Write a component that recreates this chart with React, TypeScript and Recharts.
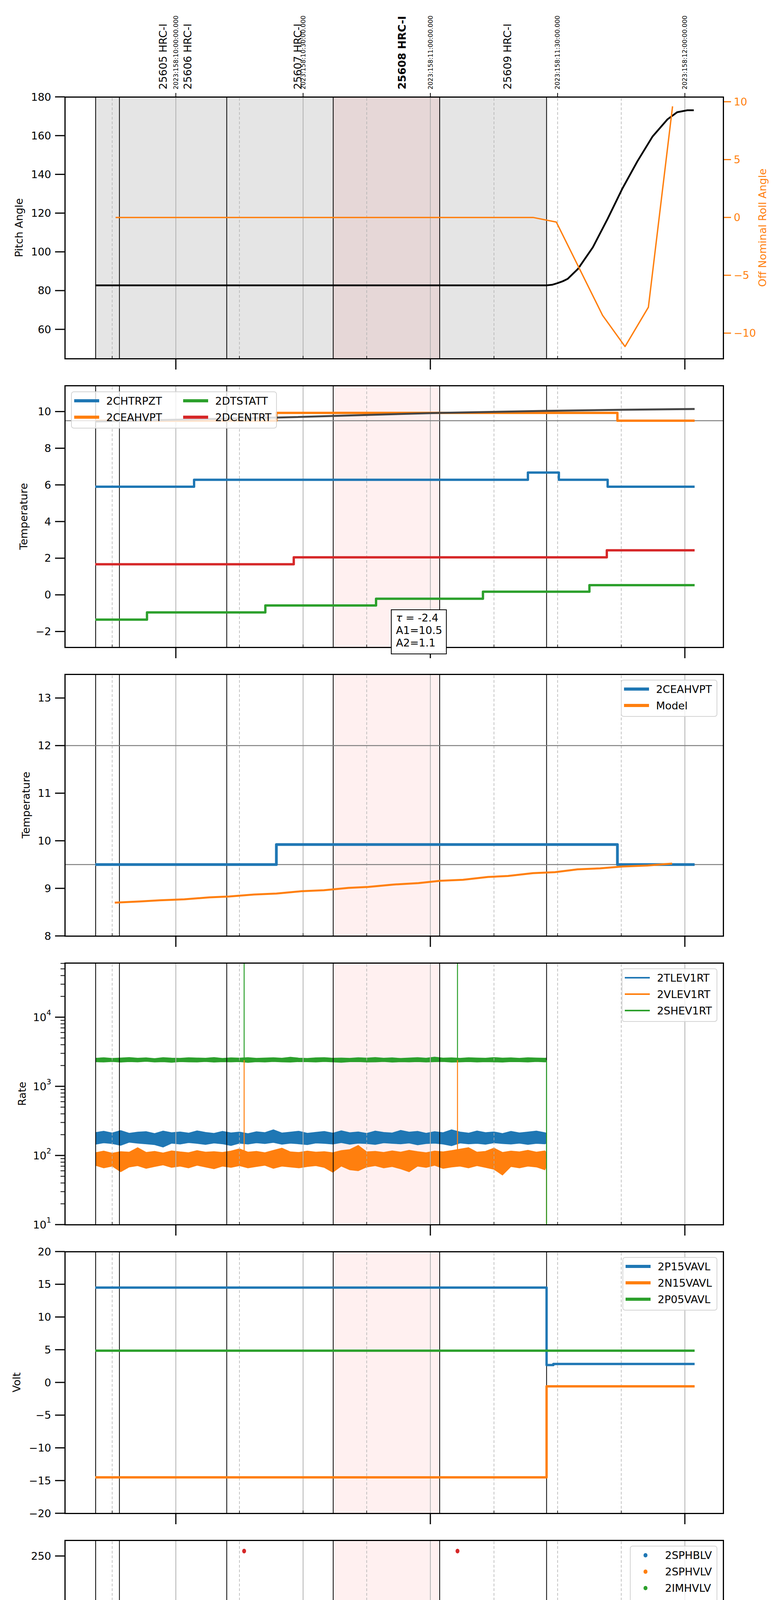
import React from "react";
import {
  ComposedChart,
  Line,
  Area,
  Scatter,
  XAxis,
  YAxis,
  ReferenceLine,
  ReferenceArea,
} from "recharts";

const FONT = "'DejaVu Sans', sans-serif";
const BLUE = "#1f77b4";
const ORANGE = "#ff7f0e";
const GREEN = "#2ca02c";
const RED = "#d62728";

// x values are minutes after 06:00 local time, 2023-06-07
const xDomain = [-26.17, 129.04];
const majorGrid = [0, 30, 60, 120];
const minorGrid = [-15, 15, 45, 75, 90, 105];
const obsidEdges = [-18.9, -13.3, 12.0, 37.1, 62.2, 87.4];
const obsidSpan = [-18.9, 87.4];
const focusSpan = [37.1, 62.2];

const bottomTicks = [-15, 0, 15, 30, 45, 60, 75, 90, 105, 120];
const bottomTickText = ["45", "06h", "15", "30", "45", "07h", "15", "30", "45", "08h"];
const topTimeTicks = [0, 30, 60, 90, 120];
const topTimeText = [
  "2023:158:10:00:00.000",
  "2023:158:10:30:00.000",
  "2023:158:11:00:00.000",
  "2023:158:11:30:00.000",
  "2023:158:12:00:00.000",
];
const obsidLabelPos = [-3.0, 2.8, 28.7, 53.3, 78.2];
const obsidLabelText = ["25605 HRC-I", "25606 HRC-I", "25607 HRC-I", "25608 HRC-I", "25609 HRC-I"];
const obsidLabelBold = [false, false, false, true, false];

// panel 1: pitch / roll
const pitchT = [-19, 87.4, 88.7, 89.9, 91.2, 92.4, 94.8, 98.3, 101.8, 105.3, 108.8, 112.4, 115.9, 118.2, 120.6, 122.1];
const pitchV = [82.7, 82.7, 83.0, 83.8, 84.8, 86.1, 91.2, 102.3, 117.1, 132.8, 146.7, 159.6, 168.4, 172.1, 173.1, 173.1];
const rollT = [-14.2, 84.2, 89.7, 100.6, 105.9, 111.4, 117.1];
const rollV = [0, 0, -0.4, -8.46, -11.16, -7.76, 9.6];

// panel 2: temperatures
const chtrT = [-19, 4.3, 83.0, 90.3, 101.8, 122.3];
const chtrV = [5.9, 6.28, 6.67, 6.28, 5.9, 5.9];
const ceahT = [-19, 23.7, 104.1, 122.3];
const ceahV = [9.5, 9.93, 9.5, 9.5];
const dtstT = [-19, -6.8, 21.1, 47.2, 72.4, 97.5, 122.3];
const dtstV = [-1.35, -0.96, -0.58, -0.21, 0.17, 0.53, 0.53];
const dcenT = [-19, 27.8, 101.6, 122.3];
const dcenV = [1.67, 2.05, 2.43, 2.43];
const trendT = [-19, 23.7, 62.2, 87.5, 105.3, 122.3];
const trendV = [9.46, 9.67, 9.93, 10.04, 10.1, 10.14];

// panel 3: 2CEAHVPT vs model
const hvptT = [-19, 23.7, 104.1, 122.3];
const hvptV = [9.5, 9.92, 9.5, 9.5];
const modelT = [-14.4, -8.5, -3.8, 2.0, 7.9, 12.6, 18.4, 23.7, 29.6, 34.9, 40.7, 45.4, 51.3, 57.2, 62.4, 67.7, 73.6, 78.3, 84.2, 89.4, 94.7, 100.0, 105.3, 111.2, 117.0];
const modelV = [8.7, 8.725, 8.75, 8.77, 8.81, 8.83, 8.87, 8.89, 8.94, 8.96, 9.01, 9.03, 9.08, 9.11, 9.16, 9.18, 9.24, 9.26, 9.32, 9.34, 9.4, 9.42, 9.46, 9.48, 9.52];

// panel 4: rates (noise envelope)
const rateT = [-19, -17, -15, -13, -11, -9, -7, -5, -3, -1, 1, 3, 5, 7, 9, 11, 13, 15, 17, 19, 21, 23, 25, 27, 29, 31, 33, 35, 37, 39, 41, 43, 45, 47, 49, 51, 53, 55, 57, 59, 61, 63, 65, 67, 69, 71, 73, 75, 77, 79, 81, 83, 85, 87, 87.4];
const tlevHi = [215, 225, 212, 230, 210, 218, 222, 208, 226, 214, 220, 211, 228, 216, 209, 224, 213, 219, 207, 221, 215, 236, 212, 218, 225, 210, 217, 223, 211, 228, 214, 220, 209, 226, 216, 212, 231, 218, 224, 210, 222, 214, 236, 219, 211, 227, 215, 220, 208, 224, 213, 219, 226, 214, 210];
const tlevLo = [145, 152, 148, 140, 155, 150, 147, 143, 132, 150, 146, 153, 149, 144, 151, 147, 139, 150, 146, 152, 148, 154, 145, 150, 147, 143, 151, 149, 146, 153, 145, 150, 148, 144, 152, 149, 147, 151, 142, 148, 150, 146, 138, 151, 147, 149, 145, 152, 148, 146, 150, 144, 149, 147, 150];
const vlevHi = [110, 116, 108, 114, 112, 130, 111, 115, 109, 117, 113, 110, 118, 112, 114, 111, 116, 125, 112, 115, 110, 119, 128, 113, 111, 116, 112, 114, 110, 118, 122, 140, 113, 115, 111, 117, 112, 119, 114, 110, 116, 113, 118, 124, 130, 112, 115, 128, 111, 116, 113, 119, 112, 117, 110];
const vlevLo = [72, 66, 70, 58, 68, 71, 65, 69, 73, 67, 70, 66, 72, 68, 64, 70, 67, 71, 66, 69, 72, 65, 70, 68, 66, 69, 71, 67, 57, 70, 62, 60, 68, 71, 66, 69, 64, 58, 70, 67, 72, 65, 68, 70, 66, 71, 67, 63, 52, 69, 66, 70, 68, 62, 70];
const shevHi = [2550, 2600, 2540, 2580, 2620, 2560, 2590, 2530, 2610, 2570, 2550, 2600, 2580, 2560, 2620, 2540, 2590, 2570, 2610, 2550, 2580, 2600, 2560, 2640, 2570, 2540, 2590, 2610, 2560, 2580, 2550, 2600, 2570, 2620, 2560, 2590, 2540, 2580, 2610, 2560, 2650, 2570, 2590, 2550, 2600, 2580, 2560, 2620, 2570, 2590, 2550, 2600, 2580, 2560, 2570];
const shevLo = [2260, 2240, 2280, 2230, 2270, 2250, 2290, 2240, 2260, 2220, 2270, 2250, 2240, 2280, 2230, 2260, 2250, 2270, 2210, 2260, 2240, 2280, 2250, 2230, 2270, 2260, 2240, 2280, 2250, 2220, 2260, 2270, 2240, 2250, 2280, 2230, 2260, 2250, 2270, 2240, 2260, 2280, 2230, 2250, 2270, 2240, 2260, 2250, 2230, 2270, 2260, 2240, 2280, 2250, 2260];
const shevSpikeT = [16.1, 16.1, 30, 66.4, 66.4, 80, 87.4, 87.4];
const shevSpikeV = [2400, 200000, null, 2400, 200000, null, 2400, 1];
const vlevSpikeT = [16.1, 16.1, 30, 66.4, 66.4, 80, 87.4, 87.4];
const vlevSpikeV = [90, 2400, null, 90, 2400, null, 90, 1];
const tlevDropT = [87.4, 87.4];
const tlevDropV = [180, 1];
const rateTicks = [10, 20, 30, 40, 50, 60, 70, 80, 90, 100, 200, 300, 400, 500, 600, 700, 800, 900, 1000, 2000, 3000, 4000, 5000, 6000, 7000, 8000, 9000, 10000, 20000, 30000, 40000, 50000, 60000];
const rateMajor = [10, 100, 1000, 10000];

// panel 5: voltages
const p15T = [-19, 87.4, 89.0, 122.3];
const p15V = [14.5, 2.65, 2.82, 2.82];
const n15T = [-19, 87.4, 122.3];
const n15V = [-14.5, -0.6, -0.6];
const p05T = [-19, 122.3];
const p05V = [4.85, 4.85];

// panel 6: HV monitors
const hvRedT = [-19, 87.4];
const hvRedV = [86, 86];
const hvGreenT = [-19, 87.4];
const hvGreenV = [78.9, 78.9];
const hvSpikeT = [16.1, 66.4];
const hvSpikeV = [255, 255];

// panel 7: detector temps
const detBlT = [-19, 87.3];
const detBlV = [4.61, 4.61];
const detOrT = [-19, -16.6, -16.3, -15.0, 6.5, 6.8, 25.5, 28.4, 28.7, 73.6, 87.3];
const detOrV = [17.24, 17.6, 17.24, 17.54, 17.9, 17.54, 17.82, 17.45, 17.82, 18.1, 18.1];
const detGrT = [-19, -17.6, -17.3, 76.0, 77.7, 77.9, 87.3];
const detGrV = [2.81, 2.3, 2.81, 3.25, 2.95, 3.25, 19.6];
const detRedT = [-19, 0, 16.1, 16.2, 24.9, 25.1, 30.2, 37.0, 37.2, 66.4, 66.5, 74.2, 87.5, 87.7];
const detRedV = [18.69, 18.98, -50, 18.98, 19.4, 18.98, 19.28, 18.9, 19.28, -50, 19.28, 19.57, 60, -50];

// panel 8: FEA temps
const feBlT = [-19, -11.5, 2.2, 16.3, 31.6, 47.2, 51.9, 52.2, 63.4, 80.3, 113.0, 122.3];
const feBlV = [-1.76, -1.36, -0.99, -0.61, -0.23, 0.14, -0.28, 0.14, 0.52, 0.9, 0.52, 0.52];
const feOrT = [-19, -8.2, 6.9, 23.1, 40.4, 58.4, 76.7, 102.0, 120.6, 122.3];
const feOrV = [-4.43, -4.03, -3.65, -3.27, -2.89, -2.51, -2.13, -1.76, -2.13, -2.13];
const feGrT = [-19, -18.6, -3.5, 12.2, 29.3, 47.2, 66.8, 87.0];
const feGrV = [1.05, 1.53, 1.94, 2.4, 2.82, 3.27, 3.71, 4.2];
const feRedT = [-19, -17.4, -14.5, -14.3, -6.8, 4.3, 15.7, 16.1, 16.2, 27.5, 31.0, 31.2, 39.0, 39.5, 39.7, 51.2, 51.4, 52.1, 53.0, 53.2, 65.0, 66.4, 66.5, 70.9, 71.1, 78.9, 87.5, 87.7];
const feRedV = [1.12, 1.43, 0.78, 1.43, 1.74, 2.04, 2.34, -20, 2.34, 2.66, 1.71, 2.66, 2.95, 3.3, 2.95, 3.3, 2.95, 3.25, 3.89, 3.25, 3.55, -20, 3.55, 3.2, 3.55, 3.84, 20, -20];

const yLabels = ["Pitch Angle", "Temperature", "Temperature", "Rate", "Volt", "HV Monitor", "Detector Temp", "FEA Temp"];

// layout
const W = 2000;
const PL = 166;
const PR = 1852;
const PT0 = 248;
const PSTEP = 739;
const PH = 670;
const panelTop = (i: number) => PT0 + PSTEP * i;
const yLabelX = [48, 60, 66, 56, 42, 48, 42, 60];

const zip = (t: number[], v: (number | null)[]) => t.map((x, i) => ({ t: x, v: v[i] }));
const band = (t: number[], lo: number[], hi: number[]) => t.map((x, i) => ({ t: x, r: [lo[i], hi[i]] }));
const num = (d: number) => (v: number) => (v < 0 ? "\u2212" : "") + Math.abs(v).toFixed(d);

const bottomTick = (labels: boolean) => (p: any) => {
  const v = p.payload.value;
  const i = bottomTicks.indexOf(v);
  const major = v % 60 === 0;
  return (
    <g>
      {major ? (
        <line x1={p.x} x2={p.x} y1={p.y} y2={p.y + 28} stroke="#000" strokeWidth={3} />
      ) : (
        <line x1={p.x} x2={p.x} y1={p.y - 7} y2={p.y} stroke="#000" strokeWidth={1.5} />
      )}
      {labels && (
        <text
          x={p.x}
          y={major ? p.y + 48 : p.y + 15}
          textAnchor="middle"
          dominantBaseline="central"
          fontSize={major ? 27 : 19}
          fontFamily={FONT}
          fill="#000"
        >
          {bottomTickText[i]}
        </text>
      )}
    </g>
  );
};

// labels above the top panel, placed through the x scale of a reference line
function TopLabel({ viewBox, text, size, bold, tick }: any) {
  if (!viewBox) return null;
  const x = viewBox.x;
  const y = viewBox.y;
  const y0 = y - 19;
  return (
    <g>
      {tick && <line x1={x} x2={x} y1={y - 10} y2={y} stroke="#000" strokeWidth={2} />}
      <text
        x={x}
        y={y0}
        transform={`rotate(-90 ${x} ${y0})`}
        textAnchor="start"
        dominantBaseline="central"
        fontSize={size}
        fontWeight={bold ? "bold" : "normal"}
        fontFamily={FONT}
        fill="#000"
      >
        {text}
      </text>
    </g>
  );
}

const topLabels = () => [
  ...topTimeTicks.map((v, i) => (
    <ReferenceLine key={"tt" + v} x={v} stroke="transparent" label={<TopLabel text={topTimeText[i]} size={16} tick />} />
  )),
  ...obsidLabelPos.map((v, i) => (
    <ReferenceLine key={"ob" + v} x={v} stroke="transparent" label={<TopLabel text={obsidLabelText[i]} size={27} bold={obsidLabelBold[i]} />} />
  )),
];

const leftTick = (fmt: (v: number) => any, majors?: number[]) => (p: any) => {
  const v = p.payload.value;
  const minor = majors ? majors.indexOf(v) < 0 : false;
  return (
    <g>
      <line x1={p.x - (minor ? 11 : 25)} x2={p.x} y1={p.y} y2={p.y} stroke="#000" strokeWidth={minor ? 2 : 3} />
      {!minor && (
        <text x={p.x - 35} y={p.y} textAnchor="end" dominantBaseline="central" fontSize={27} fontFamily={FONT} fill="#000">
          {fmt(v)}
        </text>
      )}
    </g>
  );
};

const rightTick = (p: any) => (
  <g>
    <line x1={p.x} x2={p.x + 20} y1={p.y} y2={p.y} stroke={ORANGE} strokeWidth={3} />
    <text x={p.x + 27} y={p.y} textAnchor="start" dominantBaseline="central" fontSize={27} fontFamily={FONT} fill={ORANGE}>
      {num(0)(p.payload.value)}
    </text>
  </g>
);

const logFmt = (v: number) => (
  <>
    <tspan>10</tspan>
    <tspan dy={-12} fontSize={19}>{Math.round(Math.log10(v))}</tspan>
  </>
);

// the axis gets the whole bottom margin as its height (an axis of height 0 is not drawn)
const bottomAxis = (labels: boolean, h: number) => (
  <XAxis
    key="xb"
    xAxisId={0}
    dataKey="t"
    type="number"
    domain={xDomain}
    allowDataOverflow
    ticks={bottomTicks}
    interval={0}
    height={h}
    tickSize={0}
    tickMargin={0}
    tickLine={false}
    axisLine={false}
    tick={bottomTick(labels)}
  />
);

const leftAxis = (domain: number[], ticks: number[], fmt: any, scale: any = "auto", majors?: number[]) => (
  <YAxis
    key="yl"
    yAxisId={0}
    type="number"
    width={PL}
    domain={domain}
    ticks={ticks}
    interval={0}
    scale={scale}
    allowDataOverflow
    tickSize={0}
    tickMargin={0}
    tickLine={false}
    axisLine={false}
    tick={leftTick(fmt, majors)}
  />
);

const backdrop = (gray: boolean) =>
  [
    gray ? <ReferenceArea key="gs" x1={obsidSpan[0]} x2={obsidSpan[1]} fill="#000" fillOpacity={0.1} stroke="none" /> : null,
    <ReferenceArea key="ps" x1={focusSpan[0]} x2={focusSpan[1]} fill="#ff0000" fillOpacity={0.06} stroke="none" />,
    ...majorGrid.map((v) => <ReferenceLine key={"M" + v} x={v} stroke="#b0b0b0" strokeWidth={2} />),
    ...minorGrid.map((v) => <ReferenceLine key={"m" + v} x={v} stroke="#b0b0b0" strokeWidth={1.5} strokeDasharray="7 5" />),
    ...obsidEdges.map((v) => <ReferenceLine key={"o" + v} x={v} stroke="#000" strokeWidth={2} />),
  ].filter(Boolean);

const series = (key: string, t: number[], v: (number | null)[], color: string, width: number, step = true, axis: any = 0, cap = "butt") => (
  <Line
    key={key}
    data={zip(t, v)}
    dataKey="v"
    xAxisId={0}
    yAxisId={axis}
    type={step ? "stepAfter" : "linear"}
    stroke={color}
    strokeWidth={width}
    strokeLinecap={cap as any}
    strokeLinejoin="round"
    dot={false}
    activeDot={false}
    connectNulls={false}
    isAnimationActive={false}
  />
);

const rateBand = (key: string, lo: number[], hi: number[], color: string) => (
  <Area
    key={key}
    data={band(rateT, lo, hi)}
    dataKey="r"
    xAxisId={0}
    yAxisId={0}
    type="linear"
    stroke={color}
    strokeWidth={1.5}
    fill={color}
    fillOpacity={1}
    dot={false}
    activeDot={false}
    isAnimationActive={false}
  />
);

function Chart({ i, mt, mb, wideRight, children }: any) {
  const h = PH + mt + mb;
  return (
    <div style={{ position: "absolute", left: 0, top: panelTop(i) - mt, width: W, height: h }}>
      <ComposedChart width={W} height={h} margin={{ top: mt, bottom: 0, left: 0, right: wideRight ? 0 : W - PR }}>
        {children}
      </ComposedChart>
    </div>
  );
}

const legends: any[] = [
  { left: 182, top: 1002, items: [["2CHTRPZT", BLUE], ["2CEAHVPT", ORANGE], ["2DTSTATT", GREEN], ["2DCENTRT", RED]], lw: 8 },
  { right: W - 1837, top: 1740, items: [["2CEAHVPT", BLUE], ["Model", ORANGE]], lw: 8 },
  { right: W - 1837, top: 2479, items: [["2TLEV1RT", BLUE], ["2VLEV1RT", ORANGE], ["2SHEV1RT", GREEN]], lw: 4 },
  { right: W - 1837, top: 3218, items: [["2P15VAVL", BLUE], ["2N15VAVL", ORANGE], ["2P05VAVL", GREEN]], lw: 8 },
  { right: W - 1837, top: 3957, items: [["2SPHBLV", BLUE], ["2SPHVLV", ORANGE], ["2IMHVLV", GREEN], ["2IMHBLV", RED]], dot: true },
  { right: W - 1837, top: 4695, items: [["2SPINATM", BLUE], ["2SPHVATM", ORANGE], ["2IMINATM", GREEN], ["2IMHVATM", RED]], lw: 8 },
  { right: W - 1837, top: 5434, items: [["2FHTRMZT", BLUE], ["2FRADPYT", ORANGE], ["2FEPRATM", GREEN], ["2FE00ATM", RED]], lw: 8 },
];

function LegendBox({ spec }: any) {
  const nrow = spec.left !== undefined ? 2 : spec.items.length;
  return (
    <div
      style={{
        position: "absolute",
        left: spec.left,
        right: spec.right,
        top: spec.top,
        background: "rgba(255,255,255,0.8)",
        border: "2px solid #d4d4d4",
        borderRadius: 7,
        padding: "1px 12px 6px 6px",
        display: "grid",
        gridTemplateRows: `repeat(${nrow}, 42px)`,
        gridAutoFlow: "column",
        columnGap: 54,
        fontFamily: FONT,
        fontSize: 27,
        color: "#000",
      }}
    >
      {spec.items.map(([label, color]: any) => (
        <div key={label} style={{ display: "flex", alignItems: "center" }}>
          <div style={{ width: 64, marginRight: 18, display: "flex", justifyContent: "center" }}>
            {spec.dot ? (
              <div style={{ width: 10, height: 11, borderRadius: 6, background: color }} />
            ) : (
              <div style={{ width: 64, height: spec.lw, background: color }} />
            )}
          </div>
          <span>{label}</span>
        </div>
      ))}
    </div>
  );
}

export default function App() {
  return (
    <div style={{ position: "absolute", left: 0, top: 0, width: W, height: 6200, background: "#fff", fontFamily: FONT }}>
      {/* Pitch / roll */}
      <Chart i={0} mt={248} mb={40} wideRight>
        {bottomAxis(false, 40)}
        {leftAxis([44.9, 180], [60, 80, 100, 120, 140, 160, 180], num(0))}
        <YAxis
          key="yr"
          yAxisId="right"
          orientation="right"
          type="number"
          width={W - PR}
          domain={[-12.2, 10.42]}
          ticks={[-10, -5, 0, 5, 10]}
          interval={0}
          allowDataOverflow
          tickSize={0}
          tickMargin={0}
          tickLine={false}
          axisLine={false}
          tick={rightTick}
        />
        {backdrop(true)}
        {topLabels()}
        {series("pitch", pitchT, pitchV, "#000", 4.5, false)}
        {series("roll", rollT, rollV, ORANGE, 3.5, false, "right")}
      </Chart>

      {/* Temperatures */}
      <Chart i={1} mt={20} mb={40}>
        {bottomAxis(false, 40)}
        {leftAxis([-2.86, 11.42], [-2, 0, 2, 4, 6, 8, 10], num(0))}
        {backdrop(false)}
        <ReferenceLine key="h95" y={9.5} stroke="#808080" strokeWidth={2.5} />
        {series("chtr", chtrT, chtrV, BLUE, 6)}
        {series("ceah", ceahT, ceahV, ORANGE, 6)}
        {series("dtst", dtstT, dtstV, GREEN, 6)}
        {series("dcen", dcenT, dcenV, RED, 6)}
        {series("trend", trendT, trendV, "#454545", 5, false)}
      </Chart>

      {/* 2CEAHVPT vs model */}
      <Chart i={2} mt={20} mb={40}>
        {bottomAxis(false, 40)}
        {leftAxis([8, 13.5], [8, 9, 10, 11, 12, 13], num(0))}
        {backdrop(false)}
        <ReferenceLine key="h12" y={12} stroke="#808080" strokeWidth={2.5} />
        <ReferenceLine key="h95" y={9.5} stroke="#808080" strokeWidth={2.5} />
        {series("hvpt", hvptT, hvptV, BLUE, 7)}
        {series("model", modelT, modelV, ORANGE, 5, false)}
      </Chart>

      {/* Rates */}
      <Chart i={3} mt={20} mb={40}>
        {bottomAxis(false, 40)}
        {leftAxis([10, 61000], rateTicks, logFmt, "log", rateMajor)}
        {backdrop(false)}
        {rateBand("tlev", tlevLo, tlevHi, BLUE)}
        {series("tlevDrop", tlevDropT, tlevDropV, BLUE, 2, false)}
        {rateBand("vlev", vlevLo, vlevHi, ORANGE)}
        {series("vlevSpike", vlevSpikeT, vlevSpikeV, ORANGE, 2.5, false)}
        {rateBand("shev", shevLo, shevHi, GREEN)}
        {series("shevSpike", shevSpikeT, shevSpikeV, GREEN, 2.5, false)}
      </Chart>

      {/* Voltages */}
      <Chart i={4} mt={20} mb={40}>
        {bottomAxis(false, 40)}
        {leftAxis([-20, 20], [-20, -15, -10, -5, 0, 5, 10, 15, 20], num(0))}
        {backdrop(false)}
        {series("p15", p15T, p15V, BLUE, 6)}
        {series("n15", n15T, n15V, ORANGE, 6)}
        {series("p05", p05T, p05V, GREEN, 6)}
      </Chart>

      {/* HV monitor */}
      <Chart i={5} mt={20} mb={40}>
        {bottomAxis(false, 40)}
        {leftAxis([0, 266], [0, 50, 100, 150, 200, 250], num(0))}
        {backdrop(false)}
        {series("hvGreen", hvGreenT, hvGreenV, GREEN, 12, false, 0, "round")}
        {series("hvRed", hvRedT, hvRedV, RED, 12, false, 0, "round")}
        <Scatter
          key="hvSpike"
          data={zip(hvSpikeT, hvSpikeV)}
          dataKey="v"
          xAxisId={0}
          yAxisId={0}
          fill={RED}
          isAnimationActive={false}
          shape={(p: any) => <ellipse cx={p.cx} cy={p.cy} rx={5} ry={6} fill={RED} />}
        />
      </Chart>

      {/* Detector temps */}
      <Chart i={6} mt={20} mb={40}>
        {bottomAxis(false, 40)}
        {leftAxis([1.33, 20.77], [2.5, 5, 7.5, 10, 12.5, 15, 17.5, 20], num(1))}
        {backdrop(false)}
        {series("detBl", detBlT, detBlV, BLUE, 6)}
        {series("detOr", detOrT, detOrV, ORANGE, 6)}
        {series("detGr", detGrT, detGrV, GREEN, 5)}
        {series("detRed", detRedT, detRedV, RED, 6)}
      </Chart>

      {/* FEA temps */}
      <Chart i={7} mt={20} mb={109}>
        {bottomAxis(true, 109)}
        {leftAxis([-5.15, 4.75], [-4, -2, 0, 2, 4], num(0))}
        {backdrop(false)}
        {series("feBl", feBlT, feBlV, BLUE, 6)}
        {series("feOr", feOrT, feOrV, ORANGE, 6)}
        {series("feGr", feGrT, feGrV, GREEN, 6)}
        {series("feRed", feRedT, feRedV, RED, 6)}
      </Chart>

      {/* panel frames */}
      {yLabels.map((label, i) => (
        <div
          key={"f" + i}
          style={{
            position: "absolute",
            left: PL - 1.5,
            top: panelTop(i) - 1.5,
            width: PR - PL + 3,
            height: PH + 3,
            border: "3px solid #000",
            boxSizing: "border-box",
            pointerEvents: "none",
          }}
        />
      ))}

      {/* y axis labels */}
      {yLabels.map((label, i) => (
        <div
          key={"yl" + i}
          style={{
            position: "absolute",
            left: yLabelX[i],
            top: panelTop(i) + PH / 2,
            transform: "translate(-50%, -50%) rotate(-90deg)",
            fontSize: 27,
            whiteSpace: "nowrap",
            color: "#000",
          }}
        >
          {label}
        </div>
      ))}
      <div
        style={{
          position: "absolute",
          left: 1952,
          top: panelTop(0) + PH / 2,
          transform: "translate(-50%, -50%) rotate(-90deg)",
          fontSize: 27,
          whiteSpace: "nowrap",
          color: ORANGE,
        }}
      >
        Off Nominal Roll Angle
      </div>

      {legends.map((spec, i) => (
        <LegendBox key={"lg" + i} spec={spec} />
      ))}

      {/* fit annotation */}
      <div
        style={{
          position: "absolute",
          left: 1001,
          top: 1560,
          width: 143,
          height: 115,
          boxSizing: "border-box",
          border: "2.5px solid #000",
          background: "#fff",
          padding: "4px 0 0 11px",
          fontSize: 27,
          lineHeight: "32px",
          color: "#000",
          whiteSpace: "nowrap",
        }}
      >
        <div>
          <i>τ</i> = -2.4
        </div>
        <div>A1=10.5</div>
        <div>A2=1.1</div>
      </div>

      <div
        style={{
          position: "absolute",
          left: (PL + PR) / 2,
          top: 6177,
          transform: "translate(-50%, -50%)",
          fontSize: 30,
          whiteSpace: "nowrap",
          color: "#000",
        }}
      >
        2023-06-07 (158)
      </div>
    </div>
  );
}
